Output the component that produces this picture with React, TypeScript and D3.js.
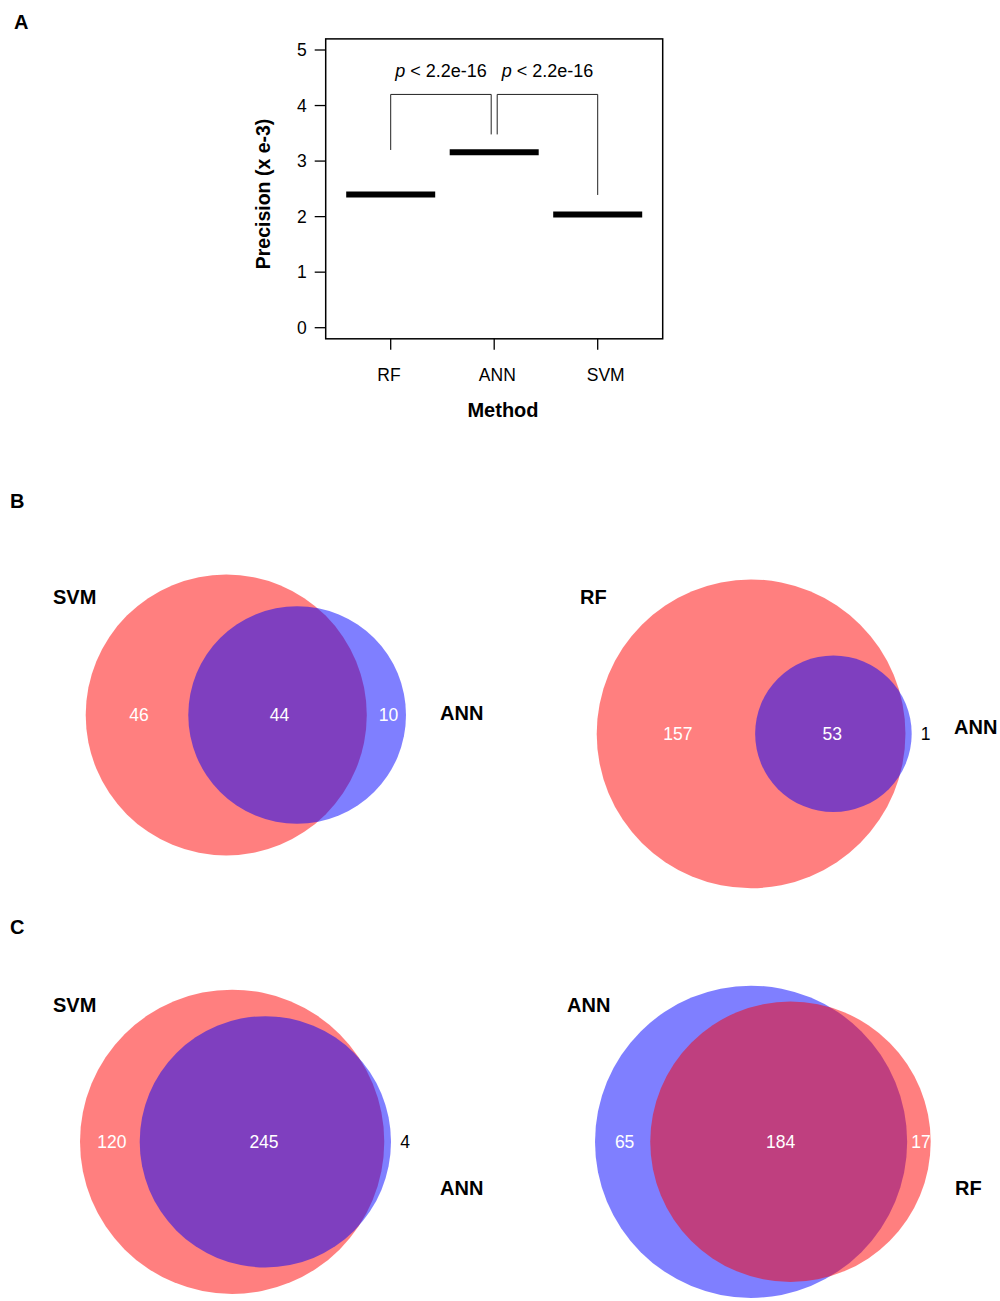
import React from "react";
import * as d3 from "d3";

// ---- Panel A data ----
const methods = ["RF", "ANN", "SVM"];
const precision = [2.4, 3.16, 2.04]; // x e-3
const yTicks = [0, 1, 2, 3, 4, 5];
const bracketPairs = [["RF", "ANN"], ["ANN", "SVM"]];
const bracketLow = [[3.2, 3.48], [3.48, 2.39]];
const bracketTop = 4.2;
const pValues = ["< 2.2e-16", "< 2.2e-16"];

// ---- Venn data (panels B and C) ----
const vennSets = [["SVM", "ANN"], ["RF", "ANN"], ["SVM", "ANN"], ["ANN", "RF"]];
const vennOnlyFirst = [46, 157, 120, 65];
const vennBoth = [44, 53, 245, 184];
const vennOnlySecond = [10, 1, 4, 17];

const setColor: Record<string, string> = { SVM: "#ff0000", RF: "#ff0000", ANN: "#0000ff" };

// where each venn sits on the page
const vennLayout = [
  { left: 85.7, right: 406, cy: 715, name1: [53, 597], name2: [440, 713] },
  { left: 596.7, right: 911.7, cy: 733.8, name1: [580, 597], name2: [954, 727] },
  { left: 80, right: 391, cy: 1141.8, name1: [53, 1005], name2: [440, 1188] },
  { left: 595, right: 930.7, cy: 1141.8, name1: [567, 1005], name2: [955, 1188] },
];

const FONT = "Liberation Sans, Arial, Helvetica, sans-serif";

// area of the lens between two circles
function lensArea(r1: number, r2: number, d: number) {
  if (d >= r1 + r2) return 0;
  if (d <= Math.abs(r1 - r2)) return Math.PI * Math.min(r1, r2) ** 2;
  const a = r1 * r1 * Math.acos((d * d + r1 * r1 - r2 * r2) / (2 * d * r1));
  const b = r2 * r2 * Math.acos((d * d + r2 * r2 - r1 * r1) / (2 * d * r2));
  const c = 0.5 * Math.sqrt((-d + r1 + r2) * (d + r1 - r2) * (d - r1 + r2) * (d + r1 + r2));
  return a + b - c;
}

function solveDistance(r1: number, r2: number, target: number) {
  let lo = Math.abs(r1 - r2);
  let hi = r1 + r2;
  for (let i = 0; i < 80; i++) {
    const mid = (lo + hi) / 2;
    if (lensArea(r1, r2, mid) > target) lo = mid;
    else hi = mid;
  }
  return (lo + hi) / 2;
}

const Venn: React.FC<{ i: number }> = ({ i }) => {
  const [s1, s2] = vennSets[i];
  const a = vennOnlyFirst[i], b = vennBoth[i], c = vennOnlySecond[i];
  const lay = vennLayout[i];

  // unit space: radius = sqrt(count), so areas stay proportional
  const r1 = Math.sqrt(a + b);
  const r2 = Math.sqrt(b + c);
  const d = solveDistance(r1, r2, Math.PI * b);
  const uLeft = Math.min(-r1, d - r2);
  const uRight = Math.max(r1, d + r2);
  const x = d3.scaleLinear().domain([uLeft, uRight]).range([lay.left, lay.right]);
  const k = (lay.right - lay.left) / (uRight - uLeft);

  const regions = [
    { v: a, from: -r1, to: d - r2 },
    { v: b, from: Math.max(-r1, d - r2), to: Math.min(r1, d + r2) },
    { v: c, from: r1, to: d + r2 },
  ];

  return (
    <g>
      <circle cx={x(0)} cy={lay.cy} r={r1 * k} fill={setColor[s1]} fillOpacity={0.5} />
      <circle cx={x(d)} cy={lay.cy} r={r2 * k} fill={setColor[s2]} fillOpacity={0.5} />
      {regions.map((reg, j) => {
        const w = (reg.to - reg.from) * k;
        const outside = w < 15;
        const px = outside ? x(uRight) + 14 : x((reg.from + reg.to) / 2) + 2;
        return (
          <text
            key={j}
            x={px}
            y={lay.cy}
            dy="0.35em"
            textAnchor="middle"
            fontSize={17.5}
            fill={outside ? "#000" : "#fff"}
          >
            {reg.v}
          </text>
        );
      })}
      <text x={lay.name1[0]} y={lay.name1[1]} dy="0.35em" fontSize={20} fontWeight="bold">{s1}</text>
      <text x={lay.name2[0]} y={lay.name2[1]} dy="0.35em" fontSize={20} fontWeight="bold">{s2}</text>
    </g>
  );
};

export default function App() {
  const y = d3.scaleLinear().domain([0, 5]).range([327.7, 50]);
  const x = d3.scalePoint<string>().domain(methods).range([390.7, 597.7]);
  const xLab = d3.scalePoint<string>().domain(methods).range([389, 605.7]);
  const boxL = (x("RF") as number) - 65;
  const boxR = (x("SVM") as number) + 65;
  const boxT = y(5.2);
  const boxB = y(-0.2);
  const halfBar = 44.5;

  const nudge = (m: string, side: number) => (m === "ANN" ? side * 3 : 0);

  return (
    <div>
      <style>{"body{margin:0}"}</style>
      <svg width={1000} height={1301} style={{ display: "block", fontFamily: FONT }}>
        <rect width={1000} height={1301} fill="#fff" />

        {/* panel letters */}
        <text x={14} y={29} fontSize={20} fontWeight="bold">A</text>
        <text x={10} y={508} fontSize={20} fontWeight="bold">B</text>
        <text x={10} y={934} fontSize={20} fontWeight="bold">C</text>

        {/* Panel A */}
        <rect x={boxL} y={boxT} width={boxR - boxL} height={boxB - boxT} fill="none" stroke="#000" strokeWidth={1.5} />
        {yTicks.map((t) => (
          <g key={t}>
            <line x1={boxL - 11} x2={boxL} y1={y(t)} y2={y(t)} stroke="#000" strokeWidth={1.3} />
            <text x={boxL - 19} y={y(t)} dy="0.35em" textAnchor="end" fontSize={17.5}>{t}</text>
          </g>
        ))}
        {methods.map((m) => (
          <g key={m}>
            <line x1={x(m)} x2={x(m)} y1={boxB} y2={boxB + 11} stroke="#000" strokeWidth={1.3} />
            <text x={xLab(m)} y={375} dy="0.35em" textAnchor="middle" fontSize={17.5}>{m}</text>
          </g>
        ))}
        {methods.map((m, i) => (
          <line
            key={m}
            x1={(x(m) as number) - halfBar}
            x2={(x(m) as number) + halfBar}
            y1={y(precision[i])}
            y2={y(precision[i])}
            stroke="#000"
            strokeWidth={6}
          />
        ))}
        {bracketPairs.map(([a, b], i) => {
          const xa = (x(a) as number) + nudge(a, 1);
          const xb = (x(b) as number) + nudge(b, -1);
          return (
            <g key={i}>
              <path
                d={`M${xa},${y(bracketLow[i][0])}V${y(bracketTop)}H${xb}V${y(bracketLow[i][1])}`}
                fill="none"
                stroke="#222"
                strokeWidth={1}
              />
              <text x={(xa + xb) / 2} y={y(bracketTop + 0.42)} dy="0.35em" textAnchor="middle" fontSize={18}>
                <tspan fontStyle="italic">p</tspan> {pValues[i]}
              </text>
            </g>
          );
        })}
        <text x={503} y={410} dy="0.35em" textAnchor="middle" fontSize={20} fontWeight="bold">Method</text>
        <text
          transform={`translate(263,${194}) rotate(-90)`}
          dy="0.35em"
          textAnchor="middle"
          fontSize={19.5}
          fontWeight="bold"
        >
          Precision (x e-3)
        </text>

        {/* Panels B and C */}
        {vennSets.map((_, i) => (
          <Venn key={i} i={i} />
        ))}
      </svg>
    </div>
  );
}
